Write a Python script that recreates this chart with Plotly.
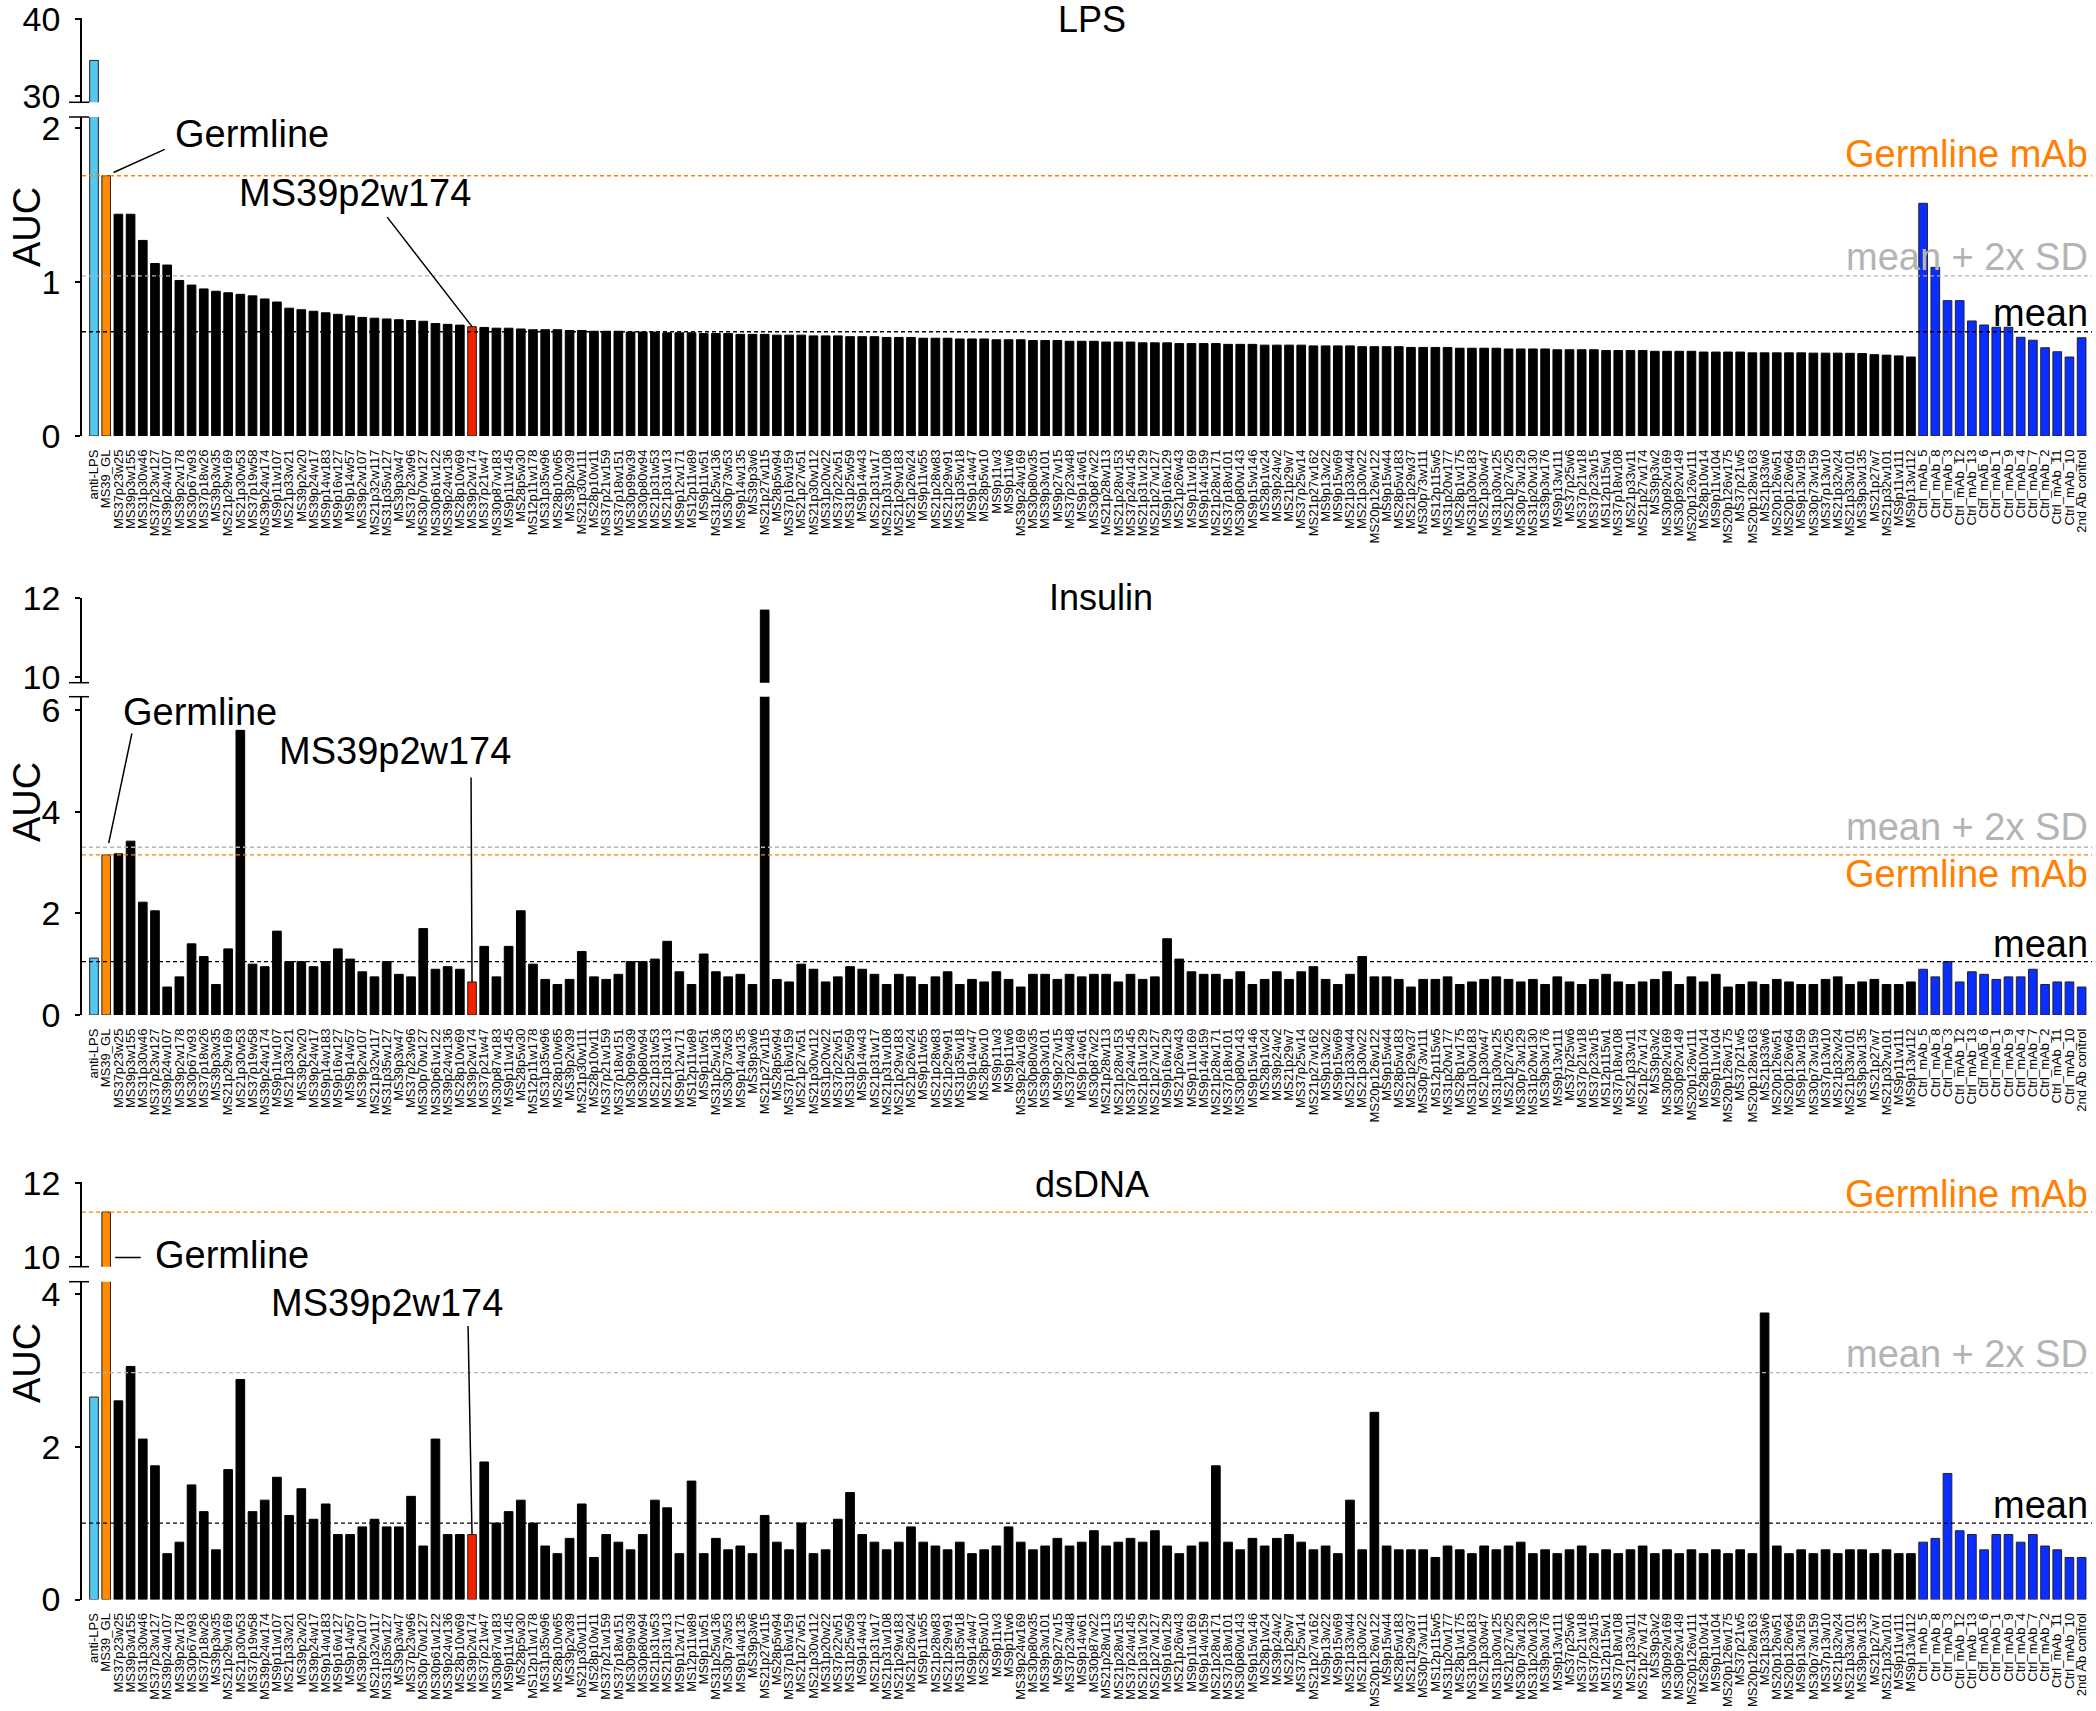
import plotly.graph_objects as go

labels = [
    "anti-LPS", "MS39_GL", "MS37p23w25", "MS39p3w155", "MS31p30w46", "MS37p23w127", "MS39p24w107", "MS39p2w178", "MS30p67w93", "MS37p18w26",
    "MS39p3w35", "MS21p29w169", "MS21p30w53", "MS37p19w58", "MS39p24w174", "MS9p11w107", "MS21p33w21", "MS39p2w20", "MS39p24w17", "MS9p14w183",
    "MS9p16w127", "MS9p14w57", "MS39p2w107", "MS21p32w117", "MS31p35w127", "MS39p3w47", "MS37p23w96", "MS30p70w127", "MS30p61w122", "MS39p24w136",
    "MS28p10w69", "MS39p2w174", "MS37p21w47", "MS30p87w183", "MS9p11w145", "MS28p5w30", "MS12p11w178", "MS31p35w96", "MS28p10w65", "MS39p2w39",
    "MS21p30w111", "MS28p10w11", "MS37p21w159", "MS37p18w151", "MS30p99w39", "MS30p80w94", "MS21p31w53", "MS21p31w13", "MS9p12w171", "MS12p11w89",
    "MS9p11w51", "MS31p25w136", "MS30p73w53", "MS9p14w135", "MS39p3w6", "MS21p27w115", "MS28p5w94", "MS37p16w159", "MS21p27w51", "MS21p30w112",
    "MS31p20w22", "MS37p22w51", "MS31p25w59", "MS9p14w43", "MS21p31w17", "MS21p31w108", "MS21p29w183", "MS21p26w24", "MS9p11w55", "MS21p28w83",
    "MS21p29w91", "MS31p35w18", "MS9p14w47", "MS28p5w10", "MS9p11w3", "MS9p11w6", "MS39p24w169", "MS30p80w35", "MS39p3w101", "MS9p27w15",
    "MS37p23w48", "MS9p14w61", "MS30p87w22", "MS21p28w113", "MS21p28w153", "MS37p24w145", "MS21p31w129", "MS21p27w127", "MS9p16w129", "MS21p26w43",
    "MS9p11w169", "MS9p14w159", "MS21p28w171", "MS37p18w101", "MS30p80w143", "MS9p15w146", "MS28p1w24", "MS39p24w2", "MS21p29w7", "MS37p25w14",
    "MS21p27w162", "MS9p13w22", "MS9p15w69", "MS21p33w44", "MS21p30w22", "MS20p126w122", "MS9p15w44", "MS28p5w183", "MS21p29w37", "MS30p73w111",
    "MS12p115w5", "MS31p20w177", "MS28p1w175", "MS31p30w183", "MS21p30w47", "MS31p30w125", "MS21p27w25", "MS30p73w129", "MS31p20w130", "MS39p3w176",
    "MS9p13w111", "MS37p25w6", "MS37p21w18", "MS37p23w15", "MS12p115w1", "MS37p18w108", "MS21p33w11", "MS21p27w174", "MS39p3w2", "MS30p92w169",
    "MS30p92w149", "MS20p126w111", "MS28p10w14", "MS9p11w104", "MS20p126w175", "MS37p21w5", "MS20p128w163", "MS21p33w6", "MS20p126w51", "MS20p126w64",
    "MS9p13w159", "MS30p73w159", "MS37p13w10", "MS21p32w24", "MS21p33w101", "MS39p3w135", "MS21p27w7", "MS21p32w101", "MS9p11w111", "MS9p13w112",
    "Ctrl_mAb_5", "Ctrl_mAb_8", "Ctrl_mAb_3", "Ctrl_mAb_12", "Ctrl_mAb_13", "Ctrl_mAb_6", "Ctrl_mAb_1", "Ctrl_mAb_9", "Ctrl_mAb_4", "Ctrl_mAb_7",
    "Ctrl_mAb_2", "Ctrl_mAb_11", "Ctrl_mAb_10", "2nd Ab control",
]

lps = [
    34.6, 1.69, 1.44, 1.44, 1.27, 1.12, 1.11, 1.01, 0.98, 0.955,
    0.94, 0.93, 0.92, 0.91, 0.89, 0.87, 0.83, 0.82, 0.81, 0.80,
    0.79, 0.78, 0.77, 0.765, 0.76, 0.755, 0.75, 0.745, 0.73, 0.725,
    0.72, 0.71, 0.705, 0.70, 0.70, 0.695, 0.69, 0.69, 0.69, 0.685,
    0.685, 0.68, 0.68, 0.68, 0.675, 0.675, 0.675, 0.67, 0.67, 0.67,
    0.665, 0.665, 0.665, 0.66, 0.66, 0.66, 0.655, 0.655, 0.655, 0.65,
    0.65, 0.65, 0.645, 0.645, 0.645, 0.64, 0.64, 0.64, 0.635, 0.635,
    0.635, 0.63, 0.63, 0.63, 0.625, 0.625, 0.625, 0.62, 0.62, 0.62,
    0.615, 0.615, 0.615, 0.61, 0.61, 0.61, 0.605, 0.605, 0.605, 0.60,
    0.60, 0.60, 0.60, 0.595, 0.595, 0.595, 0.59, 0.59, 0.59, 0.59,
    0.585, 0.585, 0.585, 0.585, 0.58, 0.58, 0.58, 0.58, 0.575, 0.575,
    0.575, 0.575, 0.57, 0.57, 0.57, 0.57, 0.565, 0.565, 0.565, 0.565,
    0.56, 0.56, 0.56, 0.56, 0.555, 0.555, 0.555, 0.555, 0.55, 0.55,
    0.55, 0.55, 0.545, 0.545, 0.545, 0.545, 0.54, 0.54, 0.54, 0.54,
    0.54, 0.538, 0.538, 0.538, 0.537, 0.535, 0.528, 0.525, 0.52, 0.513,
    1.511, 1.095, 0.879, 0.879, 0.747, 0.721, 0.706, 0.706, 0.641, 0.622,
    0.573, 0.547, 0.513, 0.638,
]

insulin = [
    1.12, 3.15, 3.17, 3.42, 2.22, 2.05, 0.55, 0.75, 1.40, 1.15,
    0.60, 1.30, 5.60, 1.00, 0.95, 1.65, 1.05, 1.05, 0.95, 1.05,
    1.30, 1.10, 0.85, 0.75, 1.05, 0.80, 0.75, 1.70, 0.90, 0.95,
    0.90, 0.65, 1.35, 0.75, 1.35, 2.05, 1.00, 0.70, 0.60, 0.70,
    1.25, 0.75, 0.70, 0.80, 1.05, 1.05, 1.10, 1.45, 0.85, 0.60,
    1.20, 0.85, 0.75, 0.80, 0.60, 11.70, 0.70, 0.65, 1.00, 0.90,
    0.65, 0.75, 0.95, 0.90, 0.80, 0.60, 0.80, 0.75, 0.60, 0.75,
    0.85, 0.60, 0.70, 0.65, 0.85, 0.70, 0.55, 0.80, 0.80, 0.70,
    0.80, 0.75, 0.80, 0.80, 0.65, 0.80, 0.70, 0.75, 1.50, 1.10,
    0.85, 0.80, 0.80, 0.70, 0.85, 0.60, 0.70, 0.85, 0.70, 0.85,
    0.95, 0.70, 0.60, 0.80, 1.15, 0.75, 0.75, 0.70, 0.55, 0.70,
    0.70, 0.75, 0.60, 0.65, 0.70, 0.75, 0.70, 0.65, 0.70, 0.60,
    0.75, 0.65, 0.60, 0.70, 0.80, 0.65, 0.60, 0.65, 0.70, 0.85,
    0.60, 0.75, 0.65, 0.80, 0.55, 0.60, 0.65, 0.60, 0.70, 0.65,
    0.60, 0.60, 0.70, 0.75, 0.60, 0.65, 0.70, 0.60, 0.60, 0.65,
    0.90, 0.75, 1.05, 0.65, 0.85, 0.80, 0.70, 0.75, 0.75, 0.90,
    0.60, 0.65, 0.65, 0.55,
]

dsdna = [
    2.65, 11.22, 2.60, 3.05, 2.10, 1.75, 0.60, 0.75, 1.50, 1.15,
    0.65, 1.70, 2.88, 1.15, 1.30, 1.60, 1.10, 1.45, 1.05, 1.25,
    0.85, 0.85, 0.95, 1.05, 0.95, 0.95, 1.35, 0.70, 2.10, 0.85,
    0.85, 0.85, 1.80, 1.00, 1.15, 1.30, 1.00, 0.70, 0.60, 0.80,
    1.25, 0.55, 0.85, 0.75, 0.65, 0.85, 1.30, 1.20, 0.60, 1.55,
    0.60, 0.80, 0.65, 0.70, 0.60, 1.10, 0.75, 0.65, 1.00, 0.60,
    0.65, 1.05, 1.40, 0.85, 0.75, 0.65, 0.75, 0.95, 0.75, 0.70,
    0.65, 0.75, 0.60, 0.65, 0.70, 0.95, 0.75, 0.65, 0.70, 0.80,
    0.70, 0.75, 0.90, 0.70, 0.75, 0.80, 0.75, 0.90, 0.70, 0.60,
    0.70, 0.75, 1.75, 0.75, 0.65, 0.80, 0.70, 0.80, 0.85, 0.75,
    0.65, 0.70, 0.60, 1.30, 0.65, 2.45, 0.70, 0.65, 0.65, 0.65,
    0.55, 0.70, 0.65, 0.60, 0.70, 0.65, 0.70, 0.75, 0.60, 0.65,
    0.60, 0.65, 0.70, 0.60, 0.65, 0.60, 0.65, 0.70, 0.60, 0.65,
    0.60, 0.65, 0.60, 0.65, 0.60, 0.65, 0.60, 3.75, 0.70, 0.60,
    0.65, 0.60, 0.65, 0.60, 0.65, 0.65, 0.60, 0.65, 0.60, 0.60,
    0.75, 0.80, 1.65, 0.90, 0.85, 0.65, 0.85, 0.85, 0.75, 0.85,
    0.70, 0.65, 0.55, 0.55,
]

# reference lines: germline mAb, mean + 2x SD, mean
lines_lps = {"germ": 1.69, "sd": 1.04, "mean": 0.677}
lines_ins = {"germ": 3.15, "sd": 3.30, "mean": 1.05}
lines_ds = {"germ": 11.22, "sd": 2.97, "mean": 1.00}

assert len(set(labels)) == len(labels)
for arr in (lps, insulin, dsdna):
    assert len(arr) == len(labels), len(arr)

W, H = 2096, 1711
FONT = "Liberation Sans, Arial, sans-serif"
SKY, ORANGE, RED, BLUE, BLACK = "#55c8f0", "#ff8c00", "#f02000", "#0a2eff", "#000000"
GRAY = "#b4b4b4"


def colour(lab):
    if lab == "anti-LPS":
        return SKY
    if lab == "MS39_GL":
        return ORANGE
    if lab == "MS39p2w174":
        return RED
    if lab.startswith("Ctrl") or lab.startswith("2nd"):
        return BLUE
    return BLACK


colors = [colour(l) for l in labels]
edge = ["#222222" if c != BLACK else BLACK for c in colors]


def py(p):
    return 1 - p / H


def px(p):
    return p / W


fig = go.Figure()

panels = [
    dict(vals=lps, x="x", yl="y", yu="y2", ldom=(117, 436), lrng=[0, 319 / 154], lticks=[0, 1, 2],
         udom=(18.3, 102.3), urng=[29.14, 40.09], uticks=[30, 40], lines=lines_lps),
    dict(vals=insulin, x="x2", yl="y3", yu="y4", ldom=(696.7, 1015), lrng=[0, 318.3 / 50.83], lticks=[0, 2, 4, 6],
         udom=(598.3, 682.7), urng=[9.85, 12.0], uticks=[10, 12], lines=lines_ins),
    dict(vals=dsdna, x="x3", yl="y5", yu="y6", ldom=(1281.7, 1599.5), lrng=[0, 317.8 / 76.4], lticks=[0, 2, 4],
         udom=(1182.3, 1266.7), urng=[9.75, 12.02], uticks=[10, 12], lines=lines_ds),
]

xrange = [-0.985, len(labels) - 1 + 0.85]
layout = dict(
    width=W, height=H, margin=dict(l=0, r=0, t=0, b=0, pad=0), autosize=False,
    paper_bgcolor="white", plot_bgcolor="rgba(0,0,0,0)",
    showlegend=False, bargap=0.29, font=dict(family=FONT, color="black"),
)

yaxis_common = dict(
    ticks="outside", ticklen=5, tickwidth=1.5, tickcolor="black",
    showline=True, linecolor="black", linewidth=1.5, showgrid=False, zeroline=False,
    tickfont=dict(size=34, family=FONT), ticklabelstandoff=8, automargin=False,
    ticklabeloverflow="allow",
)

shapes = []
for p in panels:
    xa = "xaxis" + p["x"][1:]
    yl = "yaxis" + p["yl"][1:]
    yu = "yaxis" + p["yu"][1:]
    for ya in (p["yl"], p["yu"]):
        fig.add_trace(go.Bar(
            x=labels, y=p["vals"], xaxis=p["x"], yaxis=ya,
            marker=dict(color=colors, line=dict(color=edge, width=1)),
            hoverinfo="x+y",
        ))
    layout[xa] = dict(
        domain=[px(82), px(2092)], anchor=p["yl"], type="category", range=xrange,
        tickmode="array", tickvals=labels, ticktext=labels, tickangle=-90,
        tickfont=dict(size=13, family=FONT), ticks="", showline=False,
        showgrid=False, zeroline=False, ticklabelstandoff=10, automargin=False,
        ticklabeloverflow="allow",
    )
    layout[yl] = dict(domain=[py(p["ldom"][1]), py(p["ldom"][0])], anchor=p["x"], range=p["lrng"],
                      tickvals=p["lticks"], **yaxis_common)
    layout[yu] = dict(domain=[py(p["udom"][1]), py(p["udom"][0])], anchor=p["x"], range=p["urng"],
                      tickvals=p["uticks"], **yaxis_common)
    # axis break marks
    shapes.append(dict(type="line", xref="paper", yref=p["yl"] + " domain", x0=px(69), x1=px(89), y0=1, y1=1,
                       line=dict(color="black", width=1.5)))
    shapes.append(dict(type="line", xref="paper", yref=p["yu"] + " domain", x0=px(69), x1=px(89), y0=0, y1=0,
                       line=dict(color="black", width=1.5)))
    # reference lines
    L = p["lines"]
    germ_axis = p["yu"] if L["germ"] > p["lrng"][1] else p["yl"]
    shapes.append(dict(type="line", xref=p["x"] + " domain", yref=germ_axis, x0=0, x1=1, y0=L["germ"], y1=L["germ"],
                       line=dict(color="#ff8000", width=1.3, dash="4px,3px")))
    shapes.append(dict(type="line", xref=p["x"] + " domain", yref=p["yl"], x0=0, x1=1, y0=L["sd"], y1=L["sd"],
                       line=dict(color=GRAY, width=1.3, dash="4px,3px")))
    shapes.append(dict(type="line", xref=p["x"] + " domain", yref=p["yl"], x0=0, x1=1, y0=L["mean"], y1=L["mean"],
                       line=dict(color="black", width=1.3, dash="4px,3px")))

layout["shapes"] = shapes
fig.update_layout(**layout)

BIG = 38
ann = []


def text(t, x, y, size=BIG, color="black", xanchor="center", angle=0):
    ann.append(dict(text=t, x=px(x), y=py(y), xref="paper", yref="paper", showarrow=False,
                    font=dict(size=size, color=color, family=FONT), xanchor=xanchor, yanchor="middle",
                    textangle=angle))


# titles
text("LPS", 1092, 19, size=36)
text("Insulin", 1101, 598, size=36)
text("dsDNA", 1092, 1184, size=36)
for yy in (227, 802, 1363):
    text("AUC", 27, yy, angle=-90)

# right-hand labels
text("Germline mAb", 2090, 154, color="#ff8000", xanchor="right")
text("mean + 2x SD", 2090, 257, color=GRAY, xanchor="right")
text("mean", 2090, 313, xanchor="right")
text("mean + 2x SD", 2090, 827, color=GRAY, xanchor="right")
text("Germline mAb", 2090, 874, color="#ff8000", xanchor="right")
text("mean", 2090, 944, xanchor="right")
text("Germline mAb", 2090, 1194, color="#ff8000", xanchor="right")
text("mean + 2x SD", 2090, 1354, color=GRAY, xanchor="right")
text("mean", 2090, 1505, xanchor="right")

# callout texts
text("Germline", 252, 134)
text("MS39p2w174", 355, 193)
text("Germline", 200, 712)
text("MS39p2w174", 395, 751)
text("Germline", 232, 1255)
text("MS39p2w174", 387, 1303)


def pointer(xlab, yval, xa, ya, ax, ay, standoff=0):
    ann.append(dict(text="", x=xlab, y=yval, xref=xa, yref=ya, showarrow=True, arrowhead=0,
                    arrowwidth=1.5, arrowcolor="black", ax=ax, ay=ay, standoff=standoff))


i_gl = labels.index("MS39_GL")
i_red = labels.index("MS39p2w174")
pointer("MS39_GL", lps[i_gl], "x", "y", 60, -27, standoff=8)
pointer("MS39p2w174", lps[i_red], "x", "y", -86, -111)
pointer("MS39_GL", insulin[i_gl], "x2", "y3", 26, -123, standoff=12)
pointer("MS39p2w174", insulin[i_red], "x2", "y3", -1, -206)
pointer("MS39_GL", 10.0, "x3", "y6", 36, 0, standoff=9)
pointer("MS39p2w174", dsdna[i_red], "x3", "y5", -4, -210)

fig.update_layout(annotations=ann)
fig.write_html("out.html", config={"displayModeBar": False},
               post_script="document.body.style.margin='0';")
